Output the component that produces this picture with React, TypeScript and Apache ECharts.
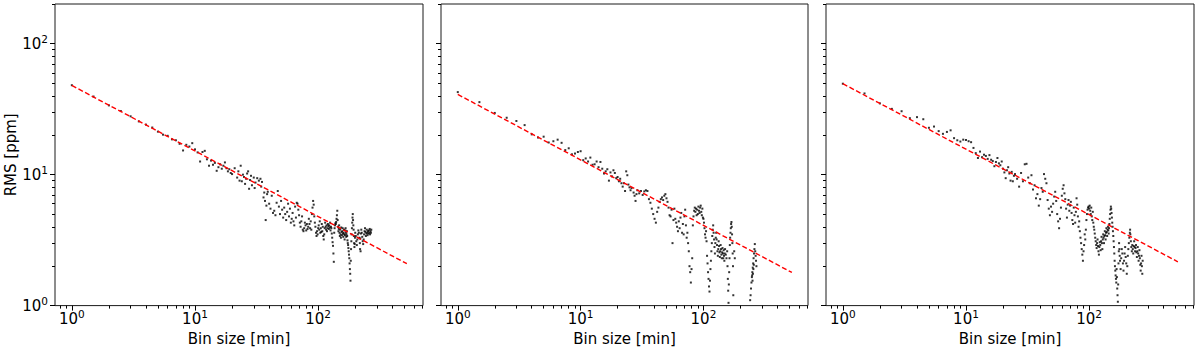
import React, { useEffect, useRef } from "react";
import * as echarts from "echarts";

const xMajorTicks = [1, 10, 100];
const xMinorTicks = [0.8, 0.9, 2, 3, 4, 5, 6, 7, 8, 9, 20, 30, 40, 50, 60, 70, 80, 90, 200, 300, 400, 500, 600, 700];
const yMajorTicks = [1, 10, 100];
const yMinorTicks = [2, 3, 4, 5, 6, 7, 8, 9, 20, 30, 40, 50, 60, 70, 80, 90, 200];
const xRange = [0.73, 710];
const yRange = [1, 201];
const xTitle = "Bin size [min]";
const yTitle = "RMS [ppm]";

// expected white-noise fits (red dashed)
const fitA: [number, number][] = [[1, 48], [525, 2.09]];
const fitB: [number, number][] = [[1, 41], [525, 1.79]];
const fitC: [number, number][] = [[1, 49.5], [525, 2.16]];

// measured RMS vs bin size, panel 1
const rmsA: [number, number][] = [
  [1, 48.2], [1.5, 39.5], [2, 33.8], [2.5, 30.6], [3, 27.9], [3.5, 25.5], [4, 24.1], [4.5, 22.9], [5, 21.3], [5.5, 20.2],
  [6, 19.8], [6.5, 18.6], [7, 18.3], [7.5, 17.2], [8, 15.3], [8.5, 16.9], [9, 16.4], [9.5, 17.4], [10, 15.6], [10.5, 14.8],
  [11, 12.6], [11.5, 14.9], [12, 15.2], [12.5, 13.1], [13, 11.7], [13.5, 12.8], [14, 11.9], [14.5, 12.3], [15, 10.7], [15.5, 11.4],
  [16, 12.0], [16.5, 11.1], [17, 11.7], [17.5, 12.4], [18, 11.2], [18.5, 10.6], [19, 11.0], [19.5, 10.3], [20, 10.1], [21, 11.2],
  [22, 9.5], [22.5, 10.6], [23, 9.0], [23.5, 11.7], [24, 8.9], [24.5, 10.0], [25, 9.6], [25.5, 8.5], [26, 9.3], [26.5, 10.2],
  [27, 10.6], [27.5, 7.8], [28, 9.1], [28.5, 9.8], [29, 8.3], [30, 9.5], [30.5, 7.9], [31, 8.7], [32, 9.4], [33, 9.0],
  [34, 9.3], [34.5, 8.1], [35, 8.8], [36, 6.7], [36.5, 7.3], [37, 6.3], [37.5, 4.5], [38, 5.8], [38.5, 7.1], [39, 7.4],
  [40, 6.0], [41, 5.5], [42, 6.9], [43, 5.1], [44, 5.3], [45, 4.9], [46, 6.1], [47, 7.5], [48, 5.7], [49, 5.0],
  [50, 6.3], [51, 5.4], [52, 4.7], [53, 5.6], [54, 5.0], [55, 4.5], [56, 5.2], [57, 6.0], [58, 4.8], [59, 5.5],
  [60, 4.3], [61, 4.6], [62, 5.1], [63, 4.4], [64, 4.1], [65, 5.7], [66, 4.7], [67, 6.1], [68, 6.0], [69, 5.4],
  [70, 4.9], [71, 4.3], [72, 4.0], [73, 4.4], [74, 4.8], [75, 3.8], [76, 3.7], [77, 3.9], [78, 4.3], [79, 4.1],
  [80, 3.75], [81, 4.2], [82, 3.85], [83, 4.0], [84, 4.6], [85, 4.2], [86, 3.9], [87, 4.4], [88, 3.8], [89, 5.0],
  [90, 5.6], [91, 6.3], [92, 5.9], [93, 4.8], [94, 4.3], [95, 4.0], [96, 3.6], [97, 3.4], [98, 3.7], [99, 3.5],
  [100, 3.9], [101, 4.1], [102, 3.8], [103, 4.4], [104, 3.6], [105, 3.9], [106, 3.65], [107, 4.2], [108, 3.7], [109, 4.0],
  [110, 3.4], [111, 3.2], [112, 3.5], [113, 3.9], [114, 4.3], [115, 4.0], [116, 3.8], [117, 4.1], [118, 3.7], [119, 3.9],
  [120, 4.2], [121, 4.05], [122, 3.85], [123, 4.1], [124, 3.95], [125, 4.3], [126, 3.75], [127, 4.0], [128, 3.9], [129, 3.55],
  [130, 3.3], [131, 3.05], [132, 2.86], [133, 2.5], [134, 2.16], [135, 3.6], [136, 3.9], [137, 4.1], [138, 4.25], [139, 4.2],
  [140, 4.35], [141, 4.6], [142, 4.9], [143, 5.3], [144, 4.5], [145, 4.0], [146, 3.7], [147, 3.85], [148, 4.1], [149, 3.6],
  [150, 3.4], [151, 3.8], [152, 3.5], [153, 3.3], [154, 3.95], [155, 3.65], [156, 3.45], [157, 3.7], [158, 3.9], [159, 3.55],
  [160, 3.35], [161, 3.6], [162, 3.8], [163, 3.5], [164, 3.2], [165, 3.45], [166, 3.75], [167, 3.9], [168, 3.6], [169, 3.35],
  [170, 3.5], [171, 3.7], [172, 3.4], [173, 3.15], [174, 3.0], [175, 2.9], [176, 2.75], [177, 2.6], [178, 2.45], [179, 2.3],
  [180, 2.1], [181, 1.9], [182, 1.75], [183, 1.55], [184, 2.2], [185, 2.7], [186, 3.1], [187, 3.5], [188, 3.9], [189, 4.3],
  [190, 4.7], [191, 5.0], [192, 4.5], [193, 4.1], [194, 3.8], [195, 3.4], [196, 3.0], [197, 2.8], [198, 2.95], [199, 3.3],
  [200, 3.6], [202, 3.4], [204, 3.1], [206, 2.9], [208, 3.2], [210, 3.5], [212, 3.75], [214, 3.6], [216, 3.3], [218, 3.0],
  [219, 2.7], [220, 3.25], [221, 2.6], [222, 3.55], [224, 3.8], [226, 3.6], [228, 3.35], [230, 3.1], [232, 2.95], [234, 3.2],
  [236, 3.5], [238, 3.7], [240, 3.9], [242, 3.65], [244, 3.4], [246, 3.55], [248, 3.8], [250, 3.6], [252, 3.45], [254, 3.7],
  [256, 3.55], [258, 3.75], [260, 3.6], [262, 3.85], [264, 3.5], [266, 3.7], [268, 3.6], [270, 3.8]
];

// panel 2
const rmsB: [number, number][] = [
  [1, 42.7], [1.5, 35.8], [2, 29.6], [2.5, 27.2], [3, 25.7], [3.5, 23.9], [4, 20.3], [4.5, 19.2], [5, 19.5], [5.5, 17.6],
  [6, 18.0], [6.5, 18.5], [7, 17.5], [7.5, 15.4], [8, 15.9], [8.5, 14.3], [9, 14.5], [9.5, 14.9], [10, 15.1], [10.5, 12.9],
  [11, 13.3], [11.5, 12.6], [12, 13.5], [12.5, 11.9], [13, 12.0], [13.5, 12.6], [14, 11.4], [14.5, 12.5], [15, 11.1], [15.5, 10.2],
  [16, 10.6], [16.5, 11.0], [17, 9.0], [17.5, 10.4], [18, 9.7], [18.5, 10.8], [19, 10.3], [19.5, 9.4], [20, 9.6], [20.5, 8.9],
  [21, 9.3], [21.5, 8.6], [22, 8.1], [22.5, 8.6], [23, 7.5], [23.5, 10.6], [24, 9.9], [24.5, 8.4], [25, 8.0], [25.5, 7.6],
  [26, 7.9], [27, 7.3], [27.5, 6.9], [28, 6.3], [28.5, 7.1], [29, 7.6], [30, 7.2], [31, 7.5], [32, 7.0], [33, 7.45],
  [34, 7.6], [35, 7.5], [36, 6.5], [37, 6.1], [38, 5.5], [39, 5.0], [40, 4.6], [41, 4.3], [42, 5.2], [43, 5.6],
  [44, 6.2], [45, 6.5], [46, 6.7], [47, 6.4], [48, 6.9], [49, 7.1], [50, 6.6], [51, 6.2], [52, 5.6], [53, 4.9],
  [54, 4.8], [55, 5.4], [56, 3.0], [57, 4.5], [58, 5.5], [59, 4.6], [60, 4.3], [61, 4.0], [62, 3.7], [63, 4.4],
  [64, 3.9], [65, 4.7], [66, 5.1], [67, 3.6], [68, 4.2], [69, 3.5], [70, 4.8], [71, 5.4], [72, 4.1], [73, 3.3],
  [74, 3.6], [75, 3.0], [76, 2.6], [77, 2.0], [78, 1.8], [79, 1.5], [80, 1.9], [81, 2.3], [82, 4.1], [83, 4.8],
  [84, 5.3], [85, 5.6], [86, 5.2], [87, 5.5], [88, 4.9], [89, 5.4], [90, 5.0], [91, 5.7], [92, 5.3], [93, 5.1],
  [94, 5.6], [95, 5.8], [96, 5.2], [97, 4.9], [98, 5.5], [99, 4.7], [100, 4.6], [101, 4.3], [102, 3.9], [103, 3.5],
  [104, 3.3], [105, 3.7], [106, 3.1], [107, 2.4], [108, 2.1], [109, 1.8], [110, 1.6], [111, 1.4], [112, 1.28], [113, 1.55],
  [114, 1.9], [115, 2.2], [116, 2.6], [117, 3.0], [118, 3.4], [119, 3.8], [120, 4.1], [121, 3.6], [122, 3.2], [123, 2.8],
  [124, 2.5], [125, 3.0], [126, 3.3], [127, 3.6], [128, 3.2], [129, 2.9], [130, 2.6], [131, 2.4], [132, 2.7], [133, 3.1],
  [134, 2.85], [135, 2.55], [136, 2.35], [137, 2.6], [138, 2.9], [139, 2.7], [140, 2.45], [141, 2.3], [142, 2.55], [143, 2.75],
  [144, 2.5], [145, 2.3], [146, 2.65], [147, 2.4], [148, 2.2], [149, 2.5], [150, 2.7], [152, 2.45], [154, 2.3], [156, 2.6],
  [157, 2.0], [158, 1.6], [159, 1.3], [160, 1.05], [161, 1.45], [162, 1.8], [163, 2.3], [164, 2.9], [165, 3.3], [166, 3.6],
  [167, 3.9], [168, 4.2], [169, 4.35], [170, 4.0], [171, 3.5], [172, 3.0], [173, 2.5], [174, 2.0], [175, 1.2], [178, 2.6],
  [180, 2.3], [240, 1.1], [242, 1.2], [244, 1.35], [246, 1.5], [248, 1.65], [249, 1.7], [250, 1.8], [251, 1.55], [252, 1.95],
  [253, 1.75], [254, 2.1], [255, 1.9], [256, 2.3], [257, 2.05], [258, 2.5], [260, 2.7], [262, 2.95], [264, 2.6], [266, 2.4],
  [268, 2.2], [270, 2.0]
];

// panel 3
const rmsC: [number, number][] = [
  [1, 49.5], [1.5, 41.7], [2, 35.0], [2.5, 31.8], [3, 30.5], [3.5, 27.0], [4, 27.5], [4.5, 26.5], [5, 22.8], [5.5, 23.3],
  [6, 21.5], [6.5, 20.5], [7, 21.2], [7.5, 21.8], [8, 19.0], [8.5, 18.3], [9, 17.9], [9.5, 18.5], [10, 18.4], [10.5, 18.0],
  [11, 17.7], [11.5, 16.0], [12, 14.6], [12.5, 13.4], [13, 15.0], [13.5, 13.6], [14, 14.2], [14.5, 13.9], [15, 13.2], [15.5, 14.1],
  [16, 13.0], [16.5, 12.7], [17, 11.6], [17.5, 12.5], [18, 13.4], [18.5, 12.2], [19, 11.8], [19.5, 12.6], [20, 11.1], [20.5, 10.4],
  [21, 9.4], [21.5, 10.8], [22, 11.4], [22.5, 10.2], [23, 9.0], [23.5, 10.5], [24, 8.9], [24.5, 9.8], [25, 10.1], [26, 9.3],
  [27, 8.1], [28, 10.3], [29, 8.9], [30, 12.0], [31, 12.1], [32, 9.5], [33, 8.6], [34, 9.9], [35, 7.7], [36, 8.3],
  [37, 6.6], [38, 7.1], [39, 5.8], [40, 6.5], [41, 7.9], [42, 7.4], [43, 10.1], [44, 9.3], [45, 8.6], [46, 6.4],
  [47, 5.5], [48, 4.9], [49, 5.7], [50, 5.2], [51, 6.0], [52, 6.8], [53, 7.4], [54, 6.3], [55, 5.0], [56, 4.4],
  [57, 3.9], [58, 4.6], [59, 5.6], [60, 6.9], [61, 7.8], [62, 8.3], [63, 7.2], [64, 6.5], [65, 5.5], [66, 4.7],
  [67, 5.9], [68, 6.4], [69, 5.3], [70, 5.8], [71, 6.2], [72, 5.1], [73, 4.5], [74, 4.2], [75, 5.6], [76, 4.9],
  [77, 4.3], [78, 5.2], [79, 6.6], [80, 5.9], [81, 4.8], [82, 4.0], [83, 4.4], [84, 3.7], [85, 3.3], [86, 3.0],
  [87, 2.7], [88, 2.45], [89, 2.2], [90, 2.6], [91, 2.9], [92, 3.5], [93, 3.2], [94, 3.8], [95, 4.5], [96, 5.0],
  [97, 5.4], [98, 5.6], [99, 5.7], [100, 5.5], [101, 5.8], [102, 5.3], [103, 5.0], [104, 5.6], [105, 4.8], [106, 4.5],
  [107, 5.2], [108, 4.3], [109, 4.0], [110, 3.8], [111, 3.55], [112, 3.3], [113, 3.1], [114, 2.9], [115, 2.75], [116, 3.0],
  [117, 3.2], [118, 2.85], [119, 2.6], [120, 2.45], [121, 2.8], [122, 3.05], [123, 2.9], [124, 2.65], [125, 3.1], [126, 3.35],
  [127, 3.0], [128, 2.7], [129, 3.2], [130, 3.5], [131, 3.3], [132, 3.0], [133, 3.4], [134, 3.7], [135, 3.45], [136, 3.2],
  [137, 3.6], [138, 3.9], [139, 3.65], [140, 3.4], [141, 3.8], [142, 4.0], [143, 3.75], [144, 3.55], [145, 3.9], [146, 4.2],
  [147, 4.6], [148, 5.0], [149, 5.4], [150, 5.7], [151, 5.5], [152, 5.1], [153, 4.7], [154, 4.3], [155, 4.0], [156, 3.7],
  [157, 3.4], [158, 3.1], [159, 2.8], [160, 2.5], [161, 2.2], [162, 2.0], [163, 1.85], [164, 1.7], [165, 1.6], [166, 1.5],
  [167, 1.9], [168, 1.65], [169, 1.35], [170, 1.2], [171, 1.07], [172, 1.45], [173, 2.1], [174, 2.6], [175, 3.0], [176, 2.7],
  [177, 2.4], [178, 2.2], [180, 1.9], [182, 2.3], [184, 2.7], [186, 2.5], [188, 2.1], [190, 1.85], [192, 2.2], [194, 2.5],
  [196, 2.8], [198, 2.35], [200, 2.1], [202, 1.75], [204, 2.0], [206, 2.4], [208, 2.7], [210, 3.0], [212, 3.3], [214, 3.6],
  [215, 3.8], [216, 3.5], [218, 3.1], [220, 2.8], [222, 2.6], [224, 2.9], [226, 2.7], [228, 2.5], [230, 2.85], [232, 3.1],
  [234, 2.8], [236, 2.6], [238, 2.75], [240, 2.9], [242, 2.55], [244, 2.35], [246, 2.6], [248, 2.8], [250, 2.5], [252, 2.2],
  [254, 2.4], [256, 2.65], [258, 2.3], [260, 2.05], [262, 1.85], [264, 2.1], [266, 2.4], [268, 2.0], [270, 1.75], [272, 2.2]
];

const panels = [
  { points: rmsA, fit: fitA },
  { points: rmsB, fit: fitB },
  { points: rmsC, fit: fitC },
];

const FONT = "DejaVu Sans";

function powLabel(v: number) {
  return "10{s|" + Math.round(Math.log10(v)) + "}";
}

export default function App() {
  const ref = useRef<HTMLDivElement>(null);
  useEffect(() => {
    if (!ref.current) return;
    const chart = echarts.init(ref.current, undefined, { renderer: "svg" });
    const lefts = [55, 441, 826];
    const widths = [368, 367, 368];
    const grids = lefts.map((l, i) => ({
      left: l,
      top: 4,
      width: widths[i],
      height: 303,
      show: true,
      borderColor: "#1a1a1a",
      borderWidth: 1,
      backgroundColor: "transparent",
    }));
    const richSup = {
      s: { fontSize: 10.5, fontFamily: FONT, color: "#000", padding: [0, 0, 9, 0] },
    };
    const xAxes: any[] = [];
    const yAxes: any[] = [];
    panels.forEach((_, i) => {
      xAxes.push({
        type: "log",
        gridIndex: i,
        position: "bottom",
        min: xRange[0],
        max: xRange[1],
        axisLine: { show: false },
        splitLine: { show: false },
        axisTick: { show: true, customValues: xMajorTicks, length: 5, lineStyle: { color: "#000", width: 1 } },
        axisLabel: {
          show: true,
          customValues: xMajorTicks,
          formatter: powLabel,
          fontSize: 15,
          fontFamily: FONT,
          color: "#000",
          margin: 3,
          rich: richSup,
        },
        name: xTitle,
        nameLocation: "middle",
        nameGap: 22,
        nameTextStyle: { fontSize: 15, fontFamily: FONT, color: "#000" },
      });
      xAxes.push({
        type: "log",
        gridIndex: i,
        position: "bottom",
        min: xRange[0],
        max: xRange[1],
        axisLine: { show: false },
        splitLine: { show: false },
        axisTick: { show: true, customValues: xMinorTicks, length: 3, lineStyle: { color: "#000", width: 1 } },
        axisLabel: { show: false },
      });
      yAxes.push({
        type: "log",
        gridIndex: i,
        position: "left",
        min: yRange[0],
        max: yRange[1],
        axisLine: { show: false },
        splitLine: { show: false },
        axisTick: { show: true, customValues: yMajorTicks, length: 5, lineStyle: { color: "#000", width: 1 } },
        axisLabel: {
          show: i === 0,
          customValues: yMajorTicks,
          formatter: powLabel,
          fontSize: 15,
          fontFamily: FONT,
          color: "#000",
          margin: 7,
          rich: richSup,
        },
        name: i === 0 ? yTitle : "",
        nameLocation: "middle",
        nameGap: 35,
        nameRotate: 90,
        nameTextStyle: { fontSize: 15, fontFamily: FONT, color: "#000" },
      });
      yAxes.push({
        type: "log",
        gridIndex: i,
        position: "left",
        min: yRange[0],
        max: yRange[1],
        axisLine: { show: false },
        splitLine: { show: false },
        axisTick: { show: true, customValues: yMinorTicks, length: 3, lineStyle: { color: "#000", width: 1 } },
        axisLabel: { show: false },
      });
    });
    const series: any[] = [];
    panels.forEach((p, i) => {
      series.push({
        type: "scatter",
        xAxisIndex: i * 2,
        yAxisIndex: i * 2,
        data: p.points,
        symbol: "rect",
        symbolSize: 2,
        itemStyle: { color: "#000" },
        silent: true,
      });
    });
    panels.forEach((p, i) => {
      series.push({
        type: "line",
        xAxisIndex: i * 2,
        yAxisIndex: i * 2,
        data: p.fit,
        symbol: "none",
        lineStyle: { color: "#ff0000", width: 1.4, type: [5, 2.5] },
        silent: true,
        z: 5,
      });
    });
    chart.setOption({
      animation: false,
      backgroundColor: "#fff",
      textStyle: { fontFamily: FONT },
      grid: grids,
      xAxis: xAxes,
      yAxis: yAxes,
      series,
    });
    return () => chart.dispose();
  }, []);
  return (
    <div
      ref={ref}
      style={{ position: "fixed", left: 0, top: 0, width: 1200, height: 351, background: "#fff" }}
    />
  );
}
